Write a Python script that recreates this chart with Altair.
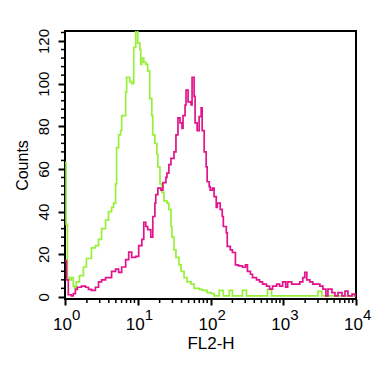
import altair as alt
import pandas as pd

# ---- data ----
green_fl2 = [1.0, 1.035, 1.08, 1.15, 1.22, 1.30, 1.35, 1.43, 1.58, 1.79, 1.97, 2.31, 2.62, 2.89,
             3.18, 3.61, 3.97, 4.37, 4.66, 4.96, 5.12, 5.46, 5.82, 6.01, 6.82, 7.04, 7.75, 8.26,
             8.81, 9.38, 10.0, 10.7, 11.0, 11.4, 12.1, 12.9, 13.7, 14.6, 15.6, 16.1, 17.2, 18.3,
             18.9, 20.2, 21.5, 22.9, 25.2, 26.8, 28.6, 29.5, 31.5, 33.5, 36.9, 39.4, 43.3, 47.6,
             54.1, 59.5, 69.8, 76.8, 90.0, 102, 112, 132, 150, 181, 200, 275, 312, 608, 691,
             2992, 3397, 10000]
green_counts = [63, 34, 9, 8, 9, 5, 4, 7, 10, 14, 18, 23, 24, 27,
                32, 36, 40, 42, 44, 53, 70, 76, 78, 85, 96, 103, 101, 100,
                117, 126, 119, 116, 109, 112, 110, 109, 106, 93, 85, 76, 72, 67,
                61, 53, 49, 45, 44, 41, 33, 28, 22, 18.5, 15, 12, 9, 7,
                6, 4, 3.5, 3, 2, 1.5, 0.5, 3, 0.5, 3, 0.5, 3, 0.5, 3.5, 0.5,
                2.6, 0.5, 0.5]

magenta_fl2 = [1.0, 1.05, 1.11, 1.22, 1.30, 1.39, 1.48, 1.68, 1.91, 2.10, 2.31, 2.62, 2.89, 3.18,
               3.61, 4.37, 4.96, 5.46, 6.01, 6.82, 7.51, 8.26, 9.38, 10.3, 11.4, 12.1, 12.9, 13.7,
               15.1, 16.1, 17.2, 17.7, 18.9, 20.8, 22.2, 24.4, 25.2, 26.8, 28.6, 31.5, 33.5, 35.7,
               38.1, 40.6, 41.9, 44.7, 46.1, 49.2, 54.1, 55.8, 59.5, 61.4, 65.5, 69.8, 74.4, 76.8,
               81.9, 87.2, 90.0, 96, 99, 106, 112, 120, 124, 136, 145, 150, 165, 170, 187, 200,
               220, 242, 275, 302, 322, 354, 378, 429, 472, 519, 589, 648, 713, 811, 891, 981,
               1080, 1150, 1306, 1532, 1687, 1855, 1977, 2108, 2317, 2548, 2897, 3187, 3508,
               3857, 4112, 4668, 5138, 5648, 6414, 7060, 7762, 8823, 9710, 10000]
magenta_counts = [17, 8, 1, 0.5, 1.5, 3.5, 4.5, 5, 4.5, 3.5, 3, 4.5, 7, 8,
                  9, 12, 13, 11.5, 14, 17.5, 21, 18.5, 19, 24, 27, 35, 33, 31.5,
                  28, 37.7, 44, 48, 51, 50, 53.6, 56, 58, 62, 65, 68, 76, 84,
                  81.6, 79, 85, 90, 97, 91.5, 90, 103, 94, 81.6, 78, 84.5, 88.6, 78,
                  68, 61, 54, 51.7, 50, 51, 47, 42, 44, 41, 37.7, 33, 30, 23.7, 22, 20.8,
                  15, 14.5, 13.9, 15, 12, 10.6, 9, 8, 7, 6, 5, 3.6, 5, 6, 5, 7,
                  4.5, 7, 6, 6, 7, 9, 11.5, 8, 7, 6, 6, 5, 3.6,
                  0.5, 3.6, 2, 0.5, 2, 0.5, 2.7, 0.5, 1.3, 0.5, 0.5]

y_major = [0, 20, 40, 60, 80, 100, 120]
y_minor = [v for v in range(4, 125, 4) if v % 20 != 0]
x_major = [1, 10, 100, 1000, 10000]
x_exponents = ["0", "1", "2", "3", "4"]
x_minor = [m * 10 ** k for k in range(4) for m in range(2, 10)]

W, H = 291, 268
FONT = "Liberation Sans"

green_df = pd.DataFrame({"fl2": green_fl2, "count": green_counts})
magenta_df = pd.DataFrame({"fl2": magenta_fl2, "count": magenta_counts})
xmaj_df = pd.DataFrame({"fl2": x_major, "exp": x_exponents})
xmin_df = pd.DataFrame({"fl2": x_minor})
ymin_df = pd.DataFrame({"count": y_minor})

xscale = alt.Scale(type="log", domain=[1, 10000], nice=False)
yscale = alt.Scale(domain=[-1, 124.7], nice=False, zero=False)

xaxis = alt.Axis(values=x_major, labels=False, tickSize=6, tickWidth=2,
                 tickColor="black", domain=False, grid=False,
                 title="FL2-H", titleFont=FONT, titleFontSize=17,
                 titleFontWeight="normal", titleColor="black", titlePadding=29)
yaxis = alt.Axis(values=y_major, tickSize=7, tickWidth=2, tickColor="black",
                 domain=False, grid=False, labelAngle=270, labelAlign="center",
                 labelBaseline="bottom", labelPadding=7, labelFont=FONT,
                 labelFontSize=15, labelColor="black",
                 title="Counts", titleFont=FONT, titleFontSize=16,
                 titleFontWeight="normal", titleColor="black", titlePadding=6)

X = alt.X("fl2:Q", scale=xscale, axis=xaxis)
Y = alt.Y("count:Q", scale=yscale, axis=yaxis)

green = alt.Chart(green_df).mark_line(
    interpolate="step-after", color="#98F03A", strokeWidth=1.7, clip=True
).encode(x=X, y=Y)

magenta = alt.Chart(magenta_df).mark_line(
    interpolate="step-after", color="#E2138C", strokeWidth=1.7, clip=True
).encode(x=X, y=Y)

x_minor_ticks = alt.Chart(xmin_df).mark_rule(color="black", strokeWidth=1.5).encode(
    x=X, y=alt.value(H), y2=alt.value(H + 4),
)

y_minor_ticks = alt.Chart(ymin_df).mark_rule(color="black", strokeWidth=1.5).encode(
    y=Y, x=alt.value(-4), x2=alt.value(0),
)

ten_labels = alt.Chart(xmaj_df).mark_text(
    text="10", align="right", baseline="alphabetic", dx=7, dy=31,
    font=FONT, fontSize=17, color="black"
).encode(x=X, y=alt.value(H))

exp_labels = alt.Chart(xmaj_df).mark_text(
    align="left", baseline="alphabetic", dx=7, dy=21,
    font=FONT, fontSize=15, color="black"
).encode(x=X, y=alt.value(H), text="exp:N")

chart = alt.layer(
    green, magenta, x_minor_ticks, y_minor_ticks, ten_labels, exp_labels
).properties(
    width=W, height=H,
    background="white",
    autosize=alt.AutoSizeParams(type="none"),
    padding={"left": 57, "top": 23, "right": 25, "bottom": 63},
).configure_view(
    stroke="black", strokeWidth=2
)

chart.save("out.html", embed_options={"renderer": "svg", "actions": False})
